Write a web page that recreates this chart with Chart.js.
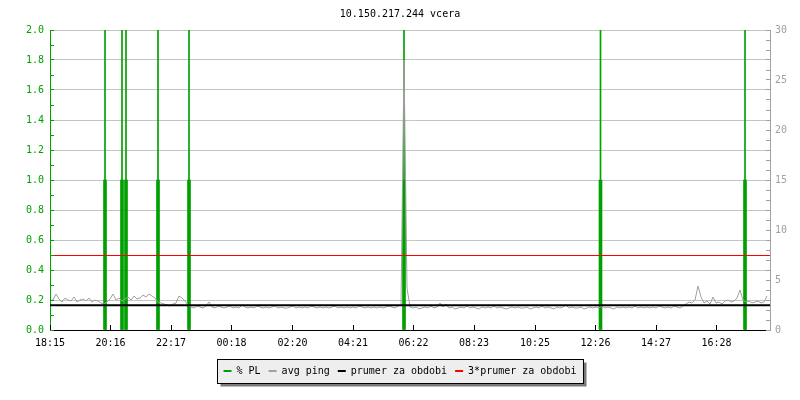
<!DOCTYPE html>
<html><head><meta charset="utf-8">
<script src="https://cdn.jsdelivr.net/npm/chart.js@4/dist/chart.umd.min.js"></script>
<style>html,body{margin:0;padding:0;background:#fff}canvas{display:block}</style>
</head><body>
<canvas id="c" width="800" height="400"></canvas>
<script>
// ---- data ----
const chartTitle = '10.150.217.244 vcera';
const rangeMinutes = 1440;
const tickMinutes = [0,121,242,363,485,606,727,848,970,1091,1212,1333];
const tickLabels = ['18:15','20:16','22:17','00:18','02:20','04:21','06:22','08:23','10:25','12:26','14:27','16:28'];
const seriesNames = ['% PL','avg ping','prumer za obdobi','3*prumer za obdobi'];
const plMinutes = [110,144,152,216,278,708,1101,1390];
const plValues  = [1,1,1,1,1,1,1,1];
const plPeakValues = [100,100,100,100,100,100,100,100];
const pingStepMinutes = 6;
const pingValues = [
 2.9,3.0,3.6,3.1,2.8,3.2,3.0,2.9,3.3,2.8,3.0,3.1,2.9,3.2,2.8,3.0,2.9,2.7,2.6,
 2.8,3.1,3.6,3.0,3.2,2.9,3.1,3.3,3.0,3.4,3.1,3.2,3.5,3.3,3.6,3.4,3.2,
 2.8,2.7,2.6,2.5,2.4,2.6,2.7,3.4,3.2,2.9,
 2.5,2.3,2.2,2.4,2.3,2.2,2.4,2.8,2.3,2.2,
 2.4,2.3,2.2,2.3,2.4,2.2,2.3,2.2,2.5,2.3,
 2.2,2.3,2.2,2.4,2.3,2.2,2.3,2.2,2.3,2.4,
 2.2,2.3,2.2,2.2,2.3,2.4,2.2,2.3,2.2,2.3,
 2.2,2.4,2.3,2.2,2.3,2.2,2.3,2.2,2.3,2.4,
 2.2,2.3,2.2,2.3,2.2,2.3,2.2,2.4,2.3,2.2,
 2.3,2.2,2.3,2.2,2.3,2.2,2.3,2.4,2.3,2.2,
 2.4,
 2.5,27.0,4.2,2.3,
 2.2,2.3,2.1,2.2,2.3,2.2,2.4,2.2,2.3,2.7,
 2.3,2.6,2.2,2.3,2.1,2.2,2.3,2.2,2.4,2.2,
 2.3,2.2,2.1,2.3,2.2,2.3,2.2,2.4,2.2,2.3,
 2.2,2.1,2.2,2.3,2.2,2.3,2.2,2.2,2.3,2.1,
 2.2,2.3,2.2,2.4,2.2,2.3,2.2,2.1,2.3,2.2,
 2.3,2.5,2.2,2.3,2.2,2.2,2.3,2.1,2.2,2.3,
 2.2,2.3,2.2,2.4,2.2,2.3,2.2,2.1,2.3,2.2,
 2.3,2.2,2.3,2.2,2.4,2.2,2.3,2.2,2.3,2.2,
 2.3,2.2,2.4,2.3,2.2,2.3,2.2,2.4,2.3,2.2,2.4,
 2.6,2.8,2.7,3.0,4.4,3.3,2.7,2.9,2.6,3.3,2.7,2.8,2.6,2.9,3.0,2.8,2.9,3.2,4.0,3.0,2.8,2.9,2.7,2.8,2.9,2.7,2.8,3.4
];
const prumerValue = 2.48;
const prumer3Value = 7.45;

// ---- styles ----
const GREEN = '#00a000', GRAY = '#a0a0a0', GRID = '#c4c4c4', RED = '#ff0000', BLACK = '#000000';
const FONT = 'DejaVu Sans Mono';
Chart.defaults.font.family = FONT;
Chart.defaults.font.size = 10;
Chart.defaults.color = BLACK;

const alignPx = v => Math.round(v - 0.5) + 0.5;

const innerTicks = {
  id: 'innerTicks',
  afterDatasetsDraw(chart) {
    const {ctx, chartArea: a, scales} = chart;
    ctx.save();
    ctx.lineWidth = 1;
    ctx.strokeStyle = GREEN;
    ctx.beginPath();
    for (let k = 0; k <= 20; k++) {
      const y = alignPx(scales.yL.getPixelForValue(k / 10));
      ctx.moveTo(a.left, y); ctx.lineTo(a.left + 4, y);
    }
    ctx.stroke();
    ctx.strokeStyle = GRAY;
    ctx.beginPath();
    for (let k = 0; k <= 30; k++) {
      const y = alignPx(scales.yR.getPixelForValue(k));
      ctx.moveTo(a.right - 4, y); ctx.lineTo(a.right, y);
    }
    ctx.stroke();
    ctx.strokeStyle = BLACK;
    ctx.beginPath();
    tickMinutes.forEach(m => {
      const x = alignPx(scales.x.getPixelForValue(m));
      ctx.moveTo(x, a.bottom); ctx.lineTo(x, a.bottom - 5);
    });
    ctx.stroke();
    ctx.restore();
  }
};

const legendBox = {
  id: 'legendBox',
  beforeDraw(chart) {
    const lg = chart.legend;
    if (!lg || !lg.legendHitBoxes || !lg.legendHitBoxes.length) return;
    const hb = lg.legendHitBoxes;
    const ctx = chart.ctx;
    const l = Math.round(Math.min(...hb.map(h => h.left)) - 7) + 0.5;
    const r = Math.round(Math.max(...hb.map(h => h.left + h.width)) + 7) + 0.5;
    const cy = hb[0].top + hb[0].height / 2;
    const t = Math.round(cy - 12) + 0.5, b = Math.round(cy + 12) + 0.5;
    ctx.save();
    ctx.fillStyle = '#7a7a7a';
    ctx.fillRect(l + 3, t + 3, r - l, b - t);
    ctx.fillStyle = '#eeeeee';
    ctx.fillRect(l, t, r - l, b - t);
    ctx.strokeStyle = BLACK; ctx.lineWidth = 1;
    ctx.strokeRect(l, t, r - l, b - t);
    ctx.restore();
  }
};

const plData = plMinutes.map((m, i) => ({x: m, y: plValues[i]}));
const plPeakData = plMinutes.map((m, i) => ({x: m, y: plPeakValues[i]}));
const pingData = pingValues.map((v, i) => ({x: i * pingStepMinutes, y: v}));
const prumerData = [{x: 0, y: prumerValue}, {x: rangeMinutes, y: prumerValue}];
const prumer3Data = [{x: 0, y: prumer3Value}, {x: rangeMinutes, y: prumer3Value}];

new Chart(document.getElementById('c'), {
  data: {
    datasets: [
      {type: 'bar', label: seriesNames[0], data: plData, yAxisID: 'yL', backgroundColor: GREEN, barThickness: 3, grouped: false, order: 3},
      {type: 'bar', label: seriesNames[0] + ' max', data: plPeakData, yAxisID: 'yL', backgroundColor: GREEN, barThickness: 1, grouped: false, order: 4},
      {type: 'line', label: seriesNames[1], data: pingData, yAxisID: 'yR', borderColor: GRAY, borderWidth: 1, pointRadius: 0, tension: 0, order: 2},
      {type: 'line', label: seriesNames[2], data: prumerData, yAxisID: 'yR', borderColor: BLACK, borderWidth: 2, pointRadius: 0, order: 0},
      {type: 'line', label: seriesNames[3], data: prumer3Data, yAxisID: 'yR', borderColor: RED, borderWidth: 1, pointRadius: 0, order: 1}
    ]
  },
  options: {
    responsive: false,
    animation: false,
    layout: {padding: {left: 0, right: 0, top: 0, bottom: 14}},
    scales: {
      x: {
        type: 'linear', min: 0, max: rangeMinutes, offset: false,
        afterBuildTicks: s => { s.ticks = tickMinutes.map(v => ({value: v})); },
        afterFit: s => { s.height = 28; },
        ticks: {callback: (v) => tickLabels[tickMinutes.indexOf(v)], color: BLACK, padding: 7, maxRotation: 0, autoSkip: false, font: {size: 10}},
        grid: {display: false, drawTicks: false, offset: false},
        border: {color: BLACK, width: 1}
      },
      yL: {
        position: 'left', min: 0, max: 2,
        afterFit: s => { s.width = 50; },
        ticks: {stepSize: 0.2, color: GREEN, padding: 6, callback: v => v.toFixed(1)},
        grid: {color: GRID, drawTicks: false, lineWidth: 1},
        border: {color: GREEN, width: 1}
      },
      yR: {
        position: 'right', min: 0, max: 30,
        afterFit: s => { s.width = 30; },
        ticks: {stepSize: 5, color: GRAY, padding: 5},
        grid: {drawOnChartArea: false, drawTicks: false},
        border: {color: GRAY, width: 1}
      }
    },
    plugins: {
      title: {display: true, text: chartTitle, color: BLACK, font: {size: 10, weight: 'normal'}, padding: {top: 8, bottom: 10}},
      tooltip: {enabled: false},
      legend: {
        position: 'bottom',
        labels: {
          usePointStyle: true, pointStyle: 'line', pointStyleWidth: 8, boxHeight: 10,
          padding: 8, color: BLACK, font: {size: 10},
          generateLabels: () => [
            {text: seriesNames[0], strokeStyle: GREEN, fillStyle: GREEN, lineWidth: 2, pointStyle: 'line', datasetIndex: 0, hidden: false},
            {text: seriesNames[1], strokeStyle: GRAY, fillStyle: GRAY, lineWidth: 2, pointStyle: 'line', datasetIndex: 2, hidden: false},
            {text: seriesNames[2], strokeStyle: BLACK, fillStyle: BLACK, lineWidth: 2, pointStyle: 'line', datasetIndex: 3, hidden: false},
            {text: seriesNames[3], strokeStyle: RED, fillStyle: RED, lineWidth: 2, pointStyle: 'line', datasetIndex: 4, hidden: false}
          ]
        }
      }
    }
  },
  plugins: [innerTicks, legendBox]
});
</script>
</body></html>
